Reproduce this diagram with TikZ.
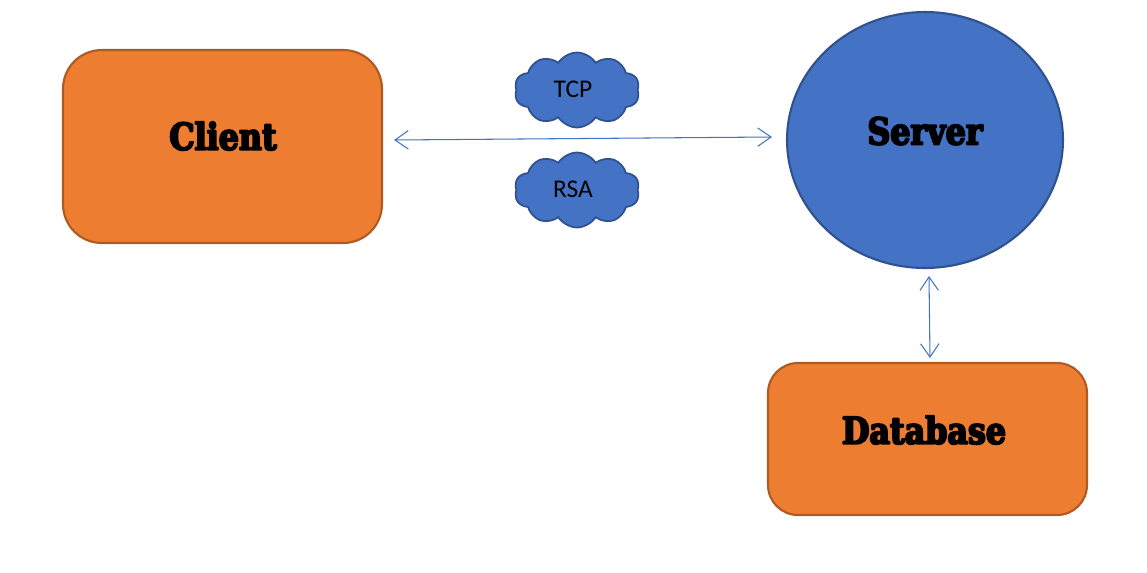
\documentclass[tikz,border=0pt]{standalone}
\usepackage{fontspec}
\setmainfont{Carlito}
\newfontfamily\heavy{DejaVu Serif}[BoldFont={* Bold},FakeStretch=0.86]
\newcommand{\fattext}[1]{\special{pdf:code q 2 Tr 1.1 w 1 j}#1\special{pdf:code Q}}
\usetikzlibrary{shapes.geometric,shapes.symbols,arrows.meta}
\definecolor{orng}{HTML}{ED7D31}
\definecolor{orngd}{HTML}{AE5A21}
\definecolor{blu}{HTML}{4472C4}
\definecolor{blud}{HTML}{2F528F}
\tikzset{
  obox/.style={draw=orngd,fill=orng,line width=1.2pt,minimum width=6.38cm,inner sep=0pt},
  bigtext/.style={font=\heavy\bfseries\fontsize{21}{24}\selectfont,text=black,inner sep=0pt},
  cloudnode/.style={cloud,cloud puffs=10,cloud puff arc=115,aspect=1.7,draw=blud,fill=blu,line width=1pt,minimum width=2.5cm,minimum height=1.5cm,inner sep=0pt},
  cloudtext/.style={font=\fontsize{14.5}{17}\selectfont,text=black,inner sep=0pt},
  arr/.style={draw=blu,line width=0.6pt,{Straight Barb[length=7.6pt,width=10.5pt]}-{Straight Barb[length=7.6pt,width=10.5pt]}}
}
\begin{document}
\begin{tikzpicture}[x=0.02cm,y=-0.02cm]
\useasboundingbox (0,0) rectangle (1147,572);
\node[obox,minimum height=3.86cm,rounded corners=22pt] (client) at (222.5,146.5) {};
\node[ellipse,draw=blud,fill=blu,line width=1.2pt,minimum width=5.52cm,minimum height=5.12cm,inner sep=0pt] (server) at (925,140) {};
\node[obox,minimum height=3.04cm,rounded corners=17pt] (db) at (927.5,439) {};
\node[bigtext] (clientlbl) at (223,136) {\fattext{Client}};
\node[bigtext] (serverlbl) at (925,131) {\fattext{Server}};
\node[bigtext] (dblbl) at (924,430) {\fattext{Database}};
\node[cloudnode] (tcp) at (577,90) {};
\node[cloudtext] (tcplbl) at (573,89) {TCP};
\node[cloudnode] (rsa) at (577,190) {};
\node[cloudtext] (rsalbl) at (573,189) {RSA};
\draw[arr] ([shift={(0.22cm,0.13cm)}]client.east) -- ([shift={(-0.28cm,0.06cm)}]server.west);
\draw[arr] ([shift={(0.08cm,-0.14cm)}]server.south) -- ([shift={(0.05cm,0.08cm)}]db.north);
\end{tikzpicture}
\end{document}
